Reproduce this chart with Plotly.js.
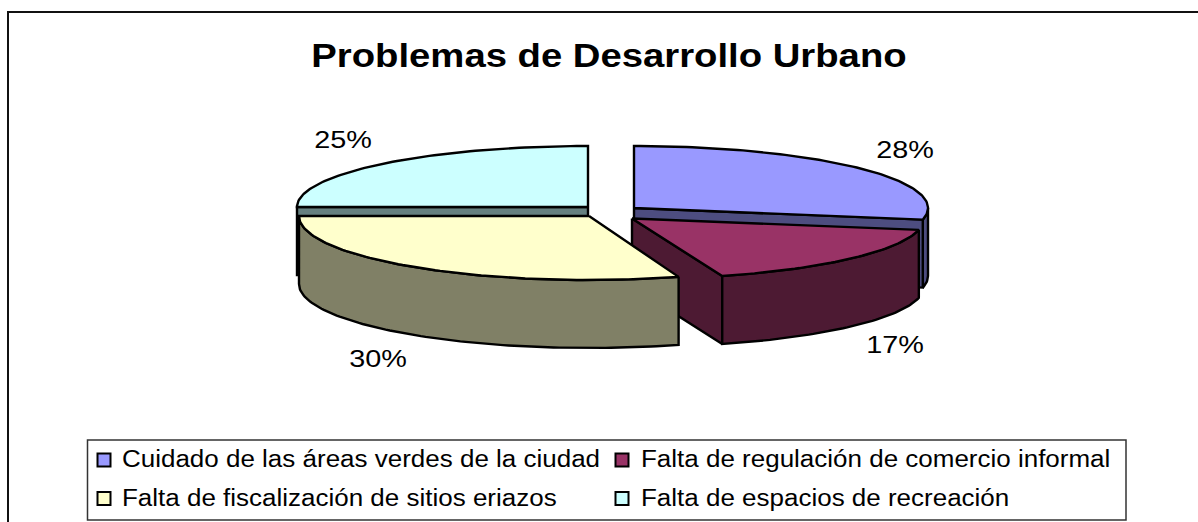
<!DOCTYPE html>
<html><head><meta charset="utf-8">
<script src="https://cdn.plot.ly/plotly-3.0.1.min.js"></script>
<style>html,body{margin:0;padding:0;background:#fff;overflow:hidden}#c{width:1198px;height:522px}
.gtitle{transform-box:fill-box;transform-origin:center;transform:scaleX(1.16)}
.annotation-text{transform-box:fill-box;transform-origin:left center;transform:scaleX(1.13)}
.annotation-text.pct{transform-origin:center;transform:scaleX(1.2)}
</style>
</head><body><div id="c"></div>
<script>
// data
const categories = ["Cuidado de las áreas verdes de la ciudad","Falta de regulación de comercio informal","Falta de fiscalización de sitios eriazos","Falta de espacios de recreación"];
const values = [28,17,30,25];
// styles
const topColors = ["#9999FF","#993366","#FFFFCC","#CCFFFF"];
const wallColors = ["#4D4D80","#4D1A33","#808066","#668080"];
// pie geometry per slice (pixel-based axes)
const centerX = [634,632,589,588];
const centerY = [208,218.5,216,207];
const radiusX = [294,292,290,291];
const radiusY = [62,60.5,64,61];
const depth = [68,68,68,68];
const labelX = [907.5,898,381,346];
const labelY = [149,344,358,139];
const swatchX = [104,622,104,622];
const swatchY = [460,460,498.5,498.5];
const legendTextX = [122,641,122,641];
const legendTextY = [458,458,497,497];
const total = values.reduce((a,b)=>a+b,0);
let acc=0;
const starts=[],ends=[];
values.forEach(v=>{starts.push(acc/total*2*Math.PI);acc+=v;ends.push(acc/total*2*Math.PI);});
function pt(i,t,dz){return [centerX[i]+radiusX[i]*Math.sin(t),centerY[i]-radiusY[i]*Math.cos(t)+(dz||0)];}
function arc(i,t0,t1,dz){const out=[];const n=Math.max(2,Math.ceil(Math.abs(t1-t0)/0.02));for(let k=0;k<=n;k++){out.push(pt(i,t0+(t1-t0)*k/n,dz));}return out;}
function poly(points,color){points=points.concat([points[0]]);return {type:'scatter',mode:'lines',x:points.map(p=>p[0]),y:points.map(p=>p[1]),fill:'toself',fillcolor:color,line:{color:'#000',width:2.4},hoverinfo:'skip',showlegend:false};}
const HALF=Math.PI/2;
function outerWall(i,a,b){return poly(arc(i,a,b,0).concat(arc(i,b,a,depth[i])),wallColors[i]);}
function radialWall(i,t){const c=[centerX[i],centerY[i]],r=pt(i,t,0),rd=pt(i,t,depth[i]);return poly([c,r,rd,[c[0],c[1]+depth[i]]],wallColors[i]);}
function topFace(i){return poly([[centerX[i],centerY[i]]].concat(arc(i,starts[i],ends[i],0)),topColors[i]);}
const traces=[
  radialWall(3,starts[3]), topFace(3),
  outerWall(0,HALF,ends[0]), radialWall(0,ends[0]), topFace(0),
  radialWall(1,ends[1]), outerWall(1,starts[1],ends[1]), topFace(1),
  outerWall(2,starts[2],3*HALF), topFace(2),
  {type:'scatter',mode:'markers',x:swatchX,y:swatchY,hoverinfo:'skip',showlegend:false,cliponaxis:false,
   marker:{symbol:'square',size:13,color:topColors,line:{color:'#000',width:2}}}
];
const font=(s)=>({family:'Liberation Sans, Arial, sans-serif',size:s,color:'#000'});
const layout={width:1198,height:522,margin:{l:0,r:0,t:0,b:0},paper_bgcolor:'#fff',plot_bgcolor:'#fff',showlegend:false,
 title:{text:'<b>Problemas de Desarrollo Urbano</b>',x:609/1198,xanchor:'center',xref:'paper',y:1-55/522,yanchor:'middle',yref:'paper',font:font(33)},
 xaxis:{range:[0,1198],visible:false,fixedrange:true},
 yaxis:{range:[522,0],visible:false,fixedrange:true},
 shapes:[
  {type:'path',xref:'x',yref:'y',path:'M 8 540 L 8 12 L 1198 12',line:{color:'#111',width:2},layer:'below'},
  {type:'rect',xref:'x',yref:'y',x0:87.5,y0:440,x1:1126,y1:520,line:{color:'#333',width:1.5},fillcolor:'#fff',layer:'below'}
 ],
 annotations:values.map((v,i)=>({x:labelX[i],y:labelY[i],xref:'x',yref:'y',text:v+'%',showarrow:false,xanchor:'center',yanchor:'middle',font:font(24)}))
  .concat(categories.map((c,i)=>({x:legendTextX[i],y:legendTextY[i],xref:'x',yref:'y',text:c,showarrow:false,xanchor:'left',yanchor:'middle',xshift:-2,font:font(23)})))
};
Plotly.newPlot('c',traces,layout,{displayModeBar:false,staticPlot:true}).then(()=>{
  document.querySelectorAll('.annotation-text').forEach(t=>{ if(t.textContent.endsWith('%')) t.classList.add('pct'); });
});
</script></body></html>
